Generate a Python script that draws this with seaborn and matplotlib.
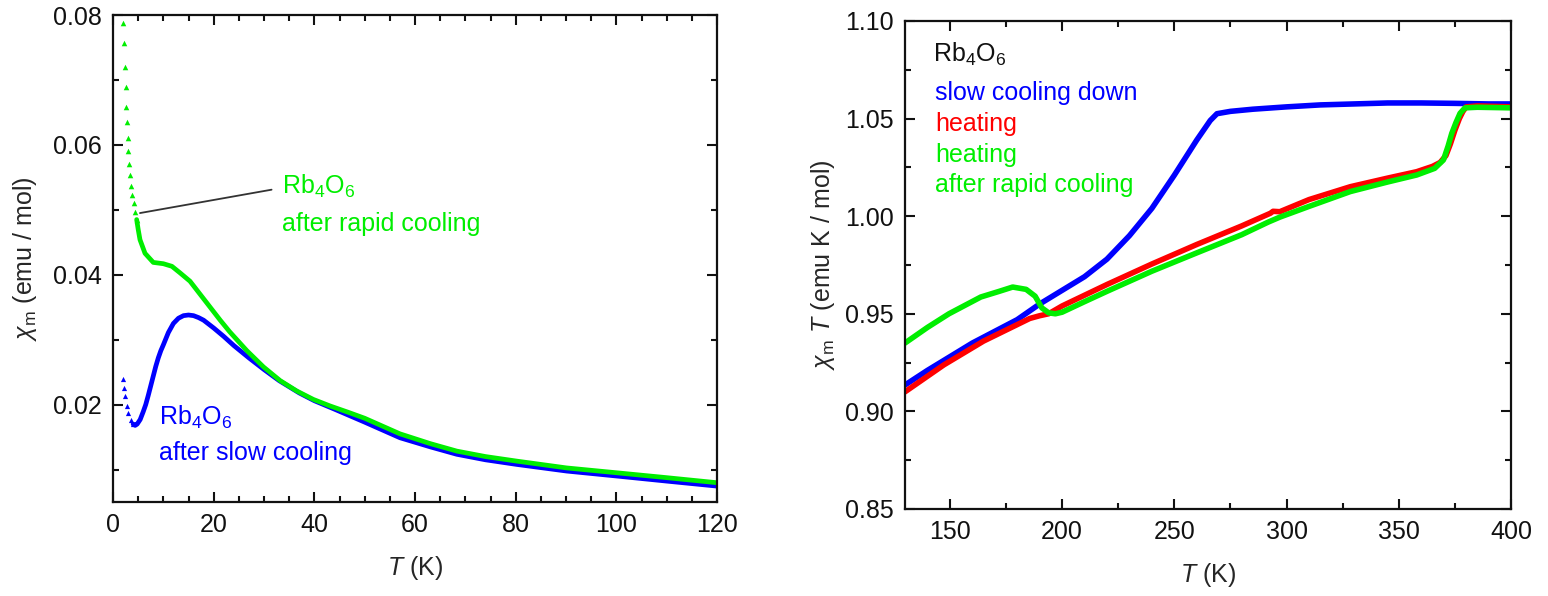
import numpy as np
import pandas as pd
import matplotlib
matplotlib.use("Agg")
import matplotlib.pyplot as plt
import seaborn as sns
from matplotlib.ticker import MultipleLocator, FormatStrFormatter

# ---------------- Left panel: chi_m vs T ----------------
T_rapid = [2.05, 2.19, 2.38, 2.52, 2.65, 2.78, 2.91, 3.05, 3.25, 3.44, 3.64, 3.84,
           4.1, 4.37, 4.7, 5.0, 5.36, 6.36, 8.0, 10.0, 11.7, 13.3, 15.3, 17.3,
           19.3, 21.3, 23.2, 26.6, 29.9, 33.2, 36.5, 39.8, 43.1, 46.8, 50.0,
           57.0, 63.0, 68.3, 74.0, 80.2, 90.1, 100.1, 110.0, 120.0]
chi_rapid = [0.0788, 0.0757, 0.0720, 0.0689, 0.0658, 0.0635, 0.0611, 0.0591, 0.0571,
             0.0554, 0.0537, 0.0523, 0.0511, 0.0497, 0.0485, 0.0470, 0.0454, 0.0433,
             0.0419, 0.0417, 0.0413, 0.0403, 0.0390, 0.0370, 0.0350, 0.0330, 0.0312,
             0.0283, 0.0258, 0.0237, 0.0221, 0.0208, 0.0198, 0.0188, 0.0179,
             0.0155, 0.0140, 0.01284, 0.0120, 0.0113, 0.01025, 0.0095, 0.00875, 0.00797]

T_slow = [2.05, 2.2, 2.4, 2.7, 3.05, 3.5, 4.0, 4.4, 4.8, 5.4, 6.0, 6.5, 7.0, 7.5,
          8.0, 8.5, 9.0, 9.5, 10.0, 11.0, 12.0, 13.0, 14.0, 15.0, 16.0, 17.0, 18.0,
          20.0, 22.0, 24.0, 27.0, 30.0, 33.0, 37.0, 40.0, 44.0, 47.0, 50.0, 57.0,
          63.0, 68.3, 74.0, 80.2, 90.1, 100.1, 110.0, 120.0]
chi_slow = [0.0239, 0.0226, 0.0213, 0.0198, 0.0187, 0.0176, 0.0170, 0.0168, 0.0170,
            0.0177, 0.0189, 0.0200, 0.0214, 0.0229, 0.0244, 0.0259, 0.0272, 0.0283,
            0.0292, 0.0311, 0.0325, 0.0333, 0.0337, 0.0338, 0.0337, 0.0334, 0.0330,
            0.0318, 0.0305, 0.0291, 0.0272, 0.0254, 0.0237, 0.0218, 0.0206, 0.0193,
            0.0183, 0.0173, 0.0149, 0.0135, 0.01235, 0.0115, 0.01079, 0.00977, 0.0090,
            0.00822, 0.00745]

# ---------------- Right panel: chi_m T vs T ----------------
T_cool = [130, 140, 150, 160, 170, 180, 190, 200, 210, 220, 230, 240, 250, 260, 266,
          269, 275, 285, 300, 315, 330, 345, 360, 375, 390, 400]
chiT_cool = [0.9135, 0.921, 0.928, 0.935, 0.941, 0.947, 0.955, 0.962, 0.969, 0.978,
             0.990, 1.004, 1.021, 1.039, 1.049, 1.0525, 1.0537, 1.0548, 1.056, 1.057,
             1.0575, 1.058, 1.058, 1.0578, 1.0575, 1.0575]

T_heat = [130, 147.3, 165, 185.6, 190, 194, 200, 220, 240, 260, 280, 292.8, 294,
          297, 310, 328.4, 345, 358, 365, 368.4, 371, 373, 375, 377, 378.5, 380, 385, 400]
chiT_heat = [0.910, 0.9238, 0.936, 0.9476, 0.949, 0.950, 0.9540, 0.9650, 0.9755, 0.9855,
             0.9950, 1.0015, 1.0025, 1.0023, 1.0085, 1.0151, 1.0195, 1.0228, 1.0255,
             1.0275, 1.031, 1.037, 1.044, 1.050, 1.0535, 1.056, 1.0565, 1.056]

T_heat_rapid = [130, 140, 149.6, 163.8, 172, 178, 184, 188, 191, 194, 197, 200, 210,
                220, 240, 260, 280, 291.9, 297, 310, 328.4, 345, 358, 366, 369.9,
                372, 373.6, 375.5, 377.3, 379.5, 385, 400]
chiT_heat_rapid = [0.935, 0.943, 0.950, 0.9586, 0.9615, 0.9637, 0.9625, 0.959, 0.953,
                   0.9505, 0.950, 0.9508, 0.9562, 0.9615, 0.9718, 0.9812, 0.9905, 0.997,
                   0.9995, 1.005, 1.0126, 1.0175, 1.0211, 1.0245, 1.0288, 1.036, 1.0424,
                   1.048, 1.0527, 1.0555, 1.0558, 1.0555]

BLUE = "#0000ff"
GREEN = "#00ee00"
RED = "#ff0000"

sns.set_theme(style="ticks")
plt.rcParams['font.family'] = ['Liberation Sans', 'DejaVu Sans']
plt.rcParams['mathtext.fontset'] = 'custom'
plt.rcParams['mathtext.rm'] = 'Liberation Sans'
plt.rcParams['mathtext.it'] = 'Liberation Sans:italic'
plt.rcParams['mathtext.bf'] = 'Liberation Sans:bold'
plt.rcParams['axes.linewidth'] = 1.6

FS = 18

fig = plt.figure(figsize=(15.48, 5.96), dpi=100)
ax1 = fig.add_axes([0.0730, 0.1577, 0.3902, 0.8171])
ax2 = fig.add_axes([0.5846, 0.1460, 0.3915, 0.8188])

df_rapid = pd.DataFrame({"T": T_rapid, "chi": chi_rapid})
df_slow = pd.DataFrame({"T": T_slow, "chi": chi_slow})

# slow cooling (blue)
sns.lineplot(data=df_slow[df_slow["T"] >= 4.0], x="T", y="chi", ax=ax1,
             color=BLUE, lw=3.4, sort=False)
sns.scatterplot(data=df_slow[df_slow["T"] < 4.4], x="T", y="chi", ax=ax1,
                color=BLUE, marker="^", s=14, linewidth=0)
# rapid cooling (green)
sns.lineplot(data=df_rapid[df_rapid["T"] >= 4.7], x="T", y="chi", ax=ax1,
             color=GREEN, lw=3.4, sort=False)
sns.scatterplot(data=df_rapid[df_rapid["T"] < 5.0], x="T", y="chi", ax=ax1,
                color=GREEN, marker="^", s=16, linewidth=0)

ax1.set_xlim(0, 120)
ax1.set_ylim(0.005, 0.08)
ax1.xaxis.set_major_locator(MultipleLocator(20))
ax1.xaxis.set_minor_locator(MultipleLocator(5))
ax1.yaxis.set_major_locator(MultipleLocator(0.02))
ax1.yaxis.set_minor_locator(MultipleLocator(0.01))
ax1.yaxis.set_major_formatter(FormatStrFormatter('%.2f'))
ax1.set_xlabel(r"$T$ (K)", fontsize=FS, labelpad=12)
ax1.set_ylabel(r"$\chi_\mathrm{m}$ (emu / mol)", fontsize=FS, labelpad=10)

ax1.annotate("", xy=(5.36, 0.0495), xytext=(31.5, 0.0531),
             arrowprops=dict(arrowstyle='-', color='#333333', lw=1.3,
                             shrinkA=0, shrinkB=0))
ax1.text(33.6, 0.05247, r"Rb$_4$O$_6$", color=GREEN, fontsize=FS, va='baseline')
ax1.text(33.6, 0.04667, "after rapid cooling", color=GREEN, fontsize=FS, va='baseline')
ax1.text(9.2, 0.01694, r"Rb$_4$O$_6$", color=BLUE, fontsize=FS, va='baseline')
ax1.text(9.2, 0.0114, "after slow cooling", color=BLUE, fontsize=FS, va='baseline')

# ---------------- right panel ----------------
df_cool = pd.DataFrame({"T": T_cool, "chiT": chiT_cool})
df_heat = pd.DataFrame({"T": T_heat, "chiT": chiT_heat})
df_hr = pd.DataFrame({"T": T_heat_rapid, "chiT": chiT_heat_rapid})

sns.lineplot(data=df_cool, x="T", y="chiT", ax=ax2, color=BLUE, lw=4, sort=False)
sns.lineplot(data=df_heat, x="T", y="chiT", ax=ax2, color=RED, lw=4, sort=False)
sns.lineplot(data=df_hr, x="T", y="chiT", ax=ax2, color=GREEN, lw=4, sort=False)

ax2.set_xlim(130, 400)
ax2.set_ylim(0.85, 1.10)
ax2.xaxis.set_major_locator(MultipleLocator(50))
ax2.xaxis.set_minor_locator(MultipleLocator(25))
ax2.yaxis.set_major_locator(MultipleLocator(0.05))
ax2.yaxis.set_minor_locator(MultipleLocator(0.025))
ax2.yaxis.set_major_formatter(FormatStrFormatter('%.2f'))
ax2.set_xlabel(r"$T$ (K)", fontsize=FS, labelpad=12)
ax2.set_ylabel(r"$\chi_\mathrm{m}$ $T$ (emu K / mol)", fontsize=FS, labelpad=6)

tr = ax2.transAxes
ax2.text(0.0468, 0.9166, r"Rb$_4$O$_6$", color="#111111", fontsize=FS, va='baseline', transform=tr)
ax2.text(0.0495, 0.838, "slow cooling down", color=BLUE, fontsize=FS, va='baseline', transform=tr)
ax2.text(0.0495, 0.775, "heating", color=RED, fontsize=FS, va='baseline', transform=tr)
ax2.text(0.0495, 0.712, "heating", color=GREEN, fontsize=FS, va='baseline', transform=tr)
ax2.text(0.0495, 0.650, "after rapid cooling", color=GREEN, fontsize=FS, va='baseline', transform=tr)

for ax in (ax1, ax2):
    ax.tick_params(which='both', direction='in', top=True, right=True,
                   width=1.5, labelsize=FS, colors='#111111')
    ax.tick_params(which='major', length=7, pad=8)
    ax.tick_params(which='minor', length=4)
    for s in ax.spines.values():
        s.set_color('#111111')
        s.set_linewidth(1.6)

fig.savefig("out.png", dpi=100)
